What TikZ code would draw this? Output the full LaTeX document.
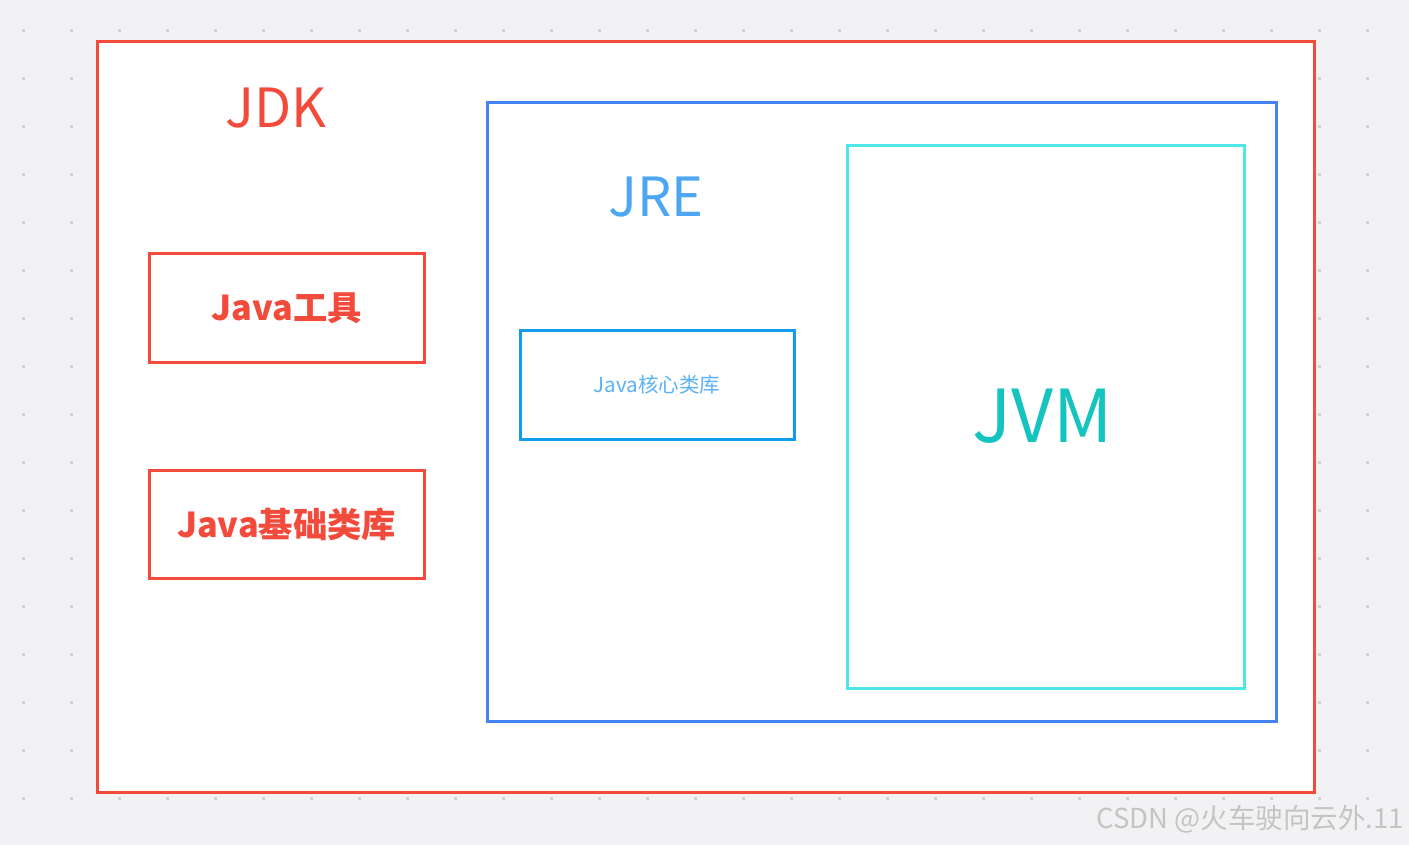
\documentclass[tikz,border=0pt]{standalone}
\usepackage{fontspec}
\setmainfont{Noto Sans CJK SC}
\newfontfamily\cjk{Noto Sans CJK SC}
\usetikzlibrary{positioning}

\definecolor{jdkred}{HTML}{F24A3B}
\definecolor{jreblue}{HTML}{4583F2}
\definecolor{jretext}{HTML}{4DA6F2}
\definecolor{jvmcyan}{HTML}{4EE6E6}
\definecolor{jvmtext}{HTML}{16C4BF}
\definecolor{libblue}{HTML}{129CF0}
\definecolor{libtext}{HTML}{5BB2F5}
\definecolor{canvas}{HTML}{F2F2F4}
\definecolor{griddot}{HTML}{D2D2D6}
\definecolor{markgray}{HTML}{C4C4C4}

\begin{document}
\begin{tikzpicture}[x=1pt,y=-1pt,
    frame/.style={draw, line width=3pt, fill=white, inner sep=0pt},
    title/.style={font=\cjk\fontsize{54}{58}\selectfont, inner sep=0pt},
    toolbox/.style={frame, draw=jdkred, text=jdkred, minimum width=275pt,
        minimum height=108pt, font=\cjk\bfseries\fontsize{34.3}{40}\selectfont}]
    % canvas and dot grid
    \fill[canvas] (0,0) rectangle (1409,845);
    \useasboundingbox (0,0) rectangle (1409,845);
    \foreach \i in {0,...,28}
        \foreach \j in {0,...,16}
            \fill[griddot] (23.7+48*\i-1.5,30.3+48*\j-1.5) rectangle ++(3,3);

    % JDK
    \node[frame, draw=jdkred, minimum width=1217pt, minimum height=750pt]
        (jdk) at (705.5,417) {};
    \node[title, text=jdkred] (jdk_t) at (276,108) {JDK};
    \node[toolbox] (tools) at (286.5,308) {Java工具};
    \node[toolbox] (baselib) at (286.5,524) {Java基础类库};

    % JRE
    \node[frame, draw=jreblue, minimum width=789pt, minimum height=618pt]
        (jre) at (881.5,412) {};
    \node[title, text=jretext] (jre_t) at (656,197) {JRE};
    \node[frame, draw=libblue, text=libtext, minimum width=274pt, minimum height=109pt,
        font=\cjk\fontsize{20.5}{24}\selectfont] (corelib) at (657,384.5) {Java核心类库};

    % JVM
    \node[frame, draw=jvmcyan, minimum width=397pt, minimum height=542pt]
        (jvm) at (1045.5,417) {};
    \node[title, text=jvmtext, font=\cjk\fontsize{73}{78}\selectfont] (jvm_t) at (1043,416) {JVM};

    % watermark
    \node[anchor=east, text=markgray, inner sep=0pt, font=\cjk\fontsize{27.5}{30}\selectfont]
        (mark) at (1404,819) {CSDN @火车驶向云外.11};
\end{tikzpicture}
\end{document}
